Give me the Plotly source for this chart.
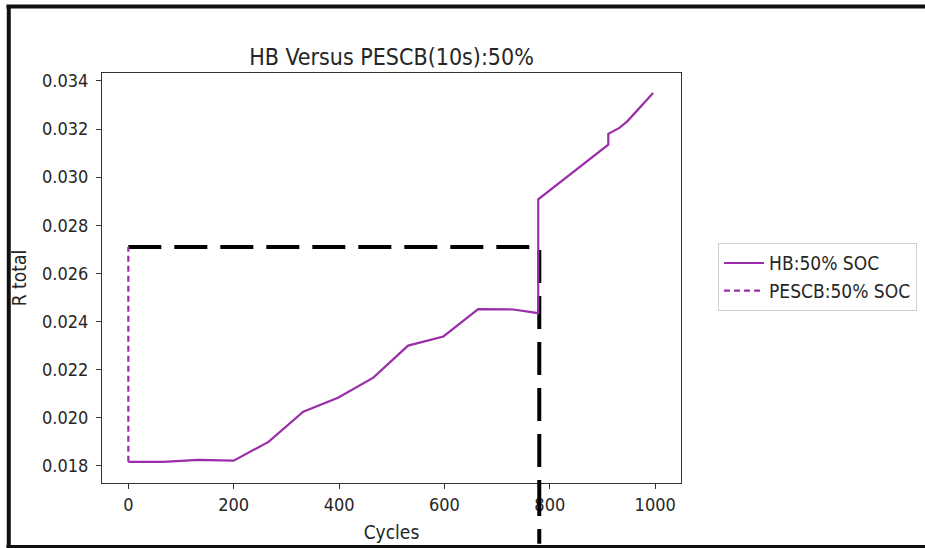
import plotly.graph_objects as go

# HB: 50% SOC (solid purple)
hb_cycles = [0, 66, 133, 200, 266, 332, 398, 465, 531, 598, 664, 731, 778, 778, 911, 911, 932, 947, 996]
hb_r = [0.01817, 0.01817, 0.01825, 0.01822, 0.0190, 0.02025, 0.02083, 0.02167, 0.0230, 0.02338,
        0.02452, 0.0245, 0.02435, 0.02908, 0.03135, 0.03180, 0.03205, 0.03232, 0.03350]

# PESCB: 50% SOC (dashed purple)
pescb_cycles = [0, 0]
pescb_r = [0.01817, 0.0271]

# Black dashed guide (crossing point)
guide_cycles = [0, 780, 780]
guide_r = [0.0271, 0.0271, 0.0150]

x_ticks = [0, 200, 400, 600, 800, 1000]
y_ticks = [0.018, 0.020, 0.022, 0.024, 0.026, 0.028, 0.030, 0.032, 0.034]
y_tick_labels = ["0.018", "0.020", "0.022", "0.024", "0.026", "0.028", "0.030", "0.032", "0.034"]

PURPLE = "#9b2ea8"
FONT = "DejaVu Sans Condensed, DejaVu Sans, sans-serif"
TXT = "#262626"

fig = go.Figure()
fig.add_trace(go.Scatter(x=guide_cycles, y=guide_r, mode="lines",
                         line=dict(color="black", width=4, dash="33px,13px"),
                         showlegend=False, hoverinfo="skip"))
fig.add_trace(go.Scatter(x=hb_cycles, y=hb_r, mode="lines", name="HB:50% SOC",
                         line=dict(color=PURPLE, width=2.2)))
fig.add_trace(go.Scatter(x=pescb_cycles, y=pescb_r, mode="lines", name="PESCB:50% SOC",
                         line=dict(color=PURPLE, width=2.2, dash="6px,4px")))

# extension of the vertical guide below the axes (not clipped in y)
fig.add_shape(type="line", xref="x", yref="paper", x0=guide_cycles[1], x1=guide_cycles[2],
              y0=0, y1=-0.148, line=dict(color="black", width=4, dash="33px,13px"), layer="above")

# outer screenshot frame (top, left, bottom)
for (fx0, fx1, fy0, fy1) in [(-0.165, 1.6, 1.162, 1.162), (-0.161, -0.161, 1.165, -0.16),
                             (-0.165, 1.6, -0.156, -0.156)]:
    fig.add_shape(type="line", xref="paper", yref="paper", x0=fx0, x1=fx1, y0=fy0, y1=fy1,
                  line=dict(color="#111", width=4))

fig.update_layout(
    width=925, height=548,
    margin=dict(l=102, r=244, t=73, b=65, autoexpand=False),
    paper_bgcolor="white", plot_bgcolor="white",
    font=dict(family=FONT, size=16, color=TXT),
    title=dict(text="HB Versus PESCB(10s):50%", x=(102 + 681) / 2 / 925, xanchor="center",
               y=1 - 57 / 548, yref="container", yanchor="middle",
               font=dict(family=FONT, size=23, color=TXT)),
    legend=dict(x=1.064, y=0.585, xanchor="left", yanchor="top",
                bordercolor="#d0d0d0", borderwidth=1, bgcolor="white",
                font=dict(family=FONT, size=19, color=TXT),
                itemwidth=40, tracegroupgap=0),
    showlegend=True,
)
fig.update_xaxes(range=[-50, 1049], tickvals=x_ticks, ticks="outside", ticklen=5, tickwidth=1,
                 tickcolor="#333", showline=True, linecolor="#333", linewidth=1, mirror=True,
                 showgrid=False, zeroline=False, tickfont=dict(family=FONT, size=18, color=TXT),
                 automargin=False,
                 title=dict(text="Cycles", standoff=12, font=dict(family=FONT, size=19, color=TXT)))
fig.update_yaxes(range=[0.01729, 0.03433], tickvals=y_ticks, ticktext=y_tick_labels,
                 ticks="outside", ticklen=5, tickwidth=1, ticklabelstandoff=4,
                 tickcolor="#333", showline=True, linecolor="#333", linewidth=1, mirror=True,
                 showgrid=False, zeroline=False, tickfont=dict(family=FONT, size=18, color=TXT),
                 automargin=False,
                 title=dict(text="R total", standoff=10, font=dict(family=FONT, size=19, color=TXT)))

fig.write_html("out.html")
